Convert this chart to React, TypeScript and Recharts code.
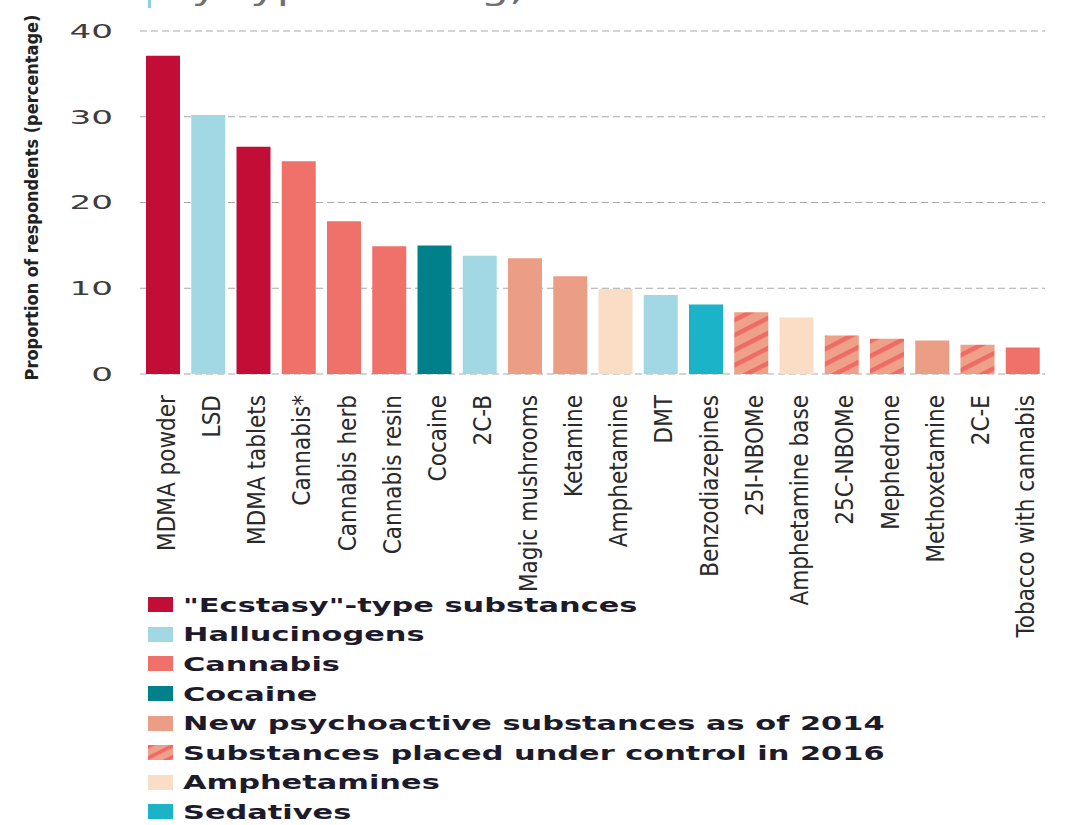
import { BarChart, Bar, Cell, XAxis, YAxis, CartesianGrid, Legend } from "recharts"

// categories and values
const drugs = [
  "MDMA powder", "LSD", "MDMA tablets", "Cannabis*", "Cannabis herb", "Cannabis resin",
  "Cocaine", "2C-B", "Magic mushrooms", "Ketamine", "Amphetamine", "DMT",
  "Benzodiazepines", "25I-NBOMe", "Amphetamine base", "25C-NBOMe", "Mephedrone",
  "Methoxetamine", "2C-E", "Tobacco with cannabis",
]
const percentages = [
  37.1, 30.2, 26.5, 24.8, 17.8, 14.9, 15.0, 13.8, 13.5, 11.4, 9.9, 9.2,
  8.1, 7.2, 6.6, 4.5, 4.1, 3.9, 3.4, 3.1,
]
const drugGroups = [
  "ecstasy", "halluc", "ecstasy", "cannabis", "cannabis", "cannabis",
  "cocaine", "halluc", "nps", "nps", "amph", "halluc",
  "sedatives", "controlled", "amph", "controlled", "controlled",
  "nps", "controlled", "cannabis",
]
const groupKeys = ["ecstasy", "halluc", "cannabis", "cocaine", "nps", "controlled", "amph", "sedatives"]
const groupLabels = [
  "\"Ecstasy\"-type substances", "Hallucinogens", "Cannabis", "Cocaine",
  "New psychoactive substances as of 2014", "Substances placed under control in 2016",
  "Amphetamines", "Sedatives",
]
const yTicks = [0, 10, 20, 30, 40]

const groupColors: Record<string, string> = {
  ecstasy: "#c20d36",
  halluc: "#a2d8e3",
  cannabis: "#f0716a",
  cocaine: "#00808b",
  nps: "#eb9d85",
  controlled: "url(#hatch)",
  amph: "#fbdcc4",
  sedatives: "#1ab3c7",
}

const data = drugs.map((name, i) => ({ name, value: percentages[i], group: drugGroups[i] }))

const condensed = "'DejaVu Sans Condensed', 'Liberation Sans Narrow', 'DejaVu Sans', sans-serif"

const XTick = ({ x, y, payload }: any) => (
  <g transform={`translate(${x + 12},${y + 21}) rotate(-90)`}>
    <text
      textAnchor="end"
      fill="#2a2a2a"
      style={{ fontFamily: condensed, fontSize: 24, fontStretch: "condensed" }}
    >
      {payload.value}
    </text>
  </g>
)

const YTick = ({ x, y, payload }: any) => (
  <g transform={`translate(${x},${y}) scale(1.8,1)`}>
    <text
      textAnchor="end"
      dy="0.36em"
      fill="#3d3d3d"
      style={{ fontFamily: "'DejaVu Sans', sans-serif", fontSize: 19 }}
    >
      {payload.value}
    </text>
  </g>
)

const YTitle = ({ viewBox }: any) => {
  const cx = viewBox.x + 38
  const cy = viewBox.y + viewBox.height / 2 - 5
  return (
    <text
      transform={`translate(${cx},${cy}) rotate(-90)`}
      textAnchor="middle"
      fill="#222"
      style={{ fontFamily: condensed, fontSize: 18, fontWeight: 700, fontStretch: "condensed" }}
    >
      Proportion of respondents (percentage)
    </text>
  )
}

const LegendContent = () => (
  <div>
    {groupKeys.map((key, i) => (
      <div key={key} style={{ display: "flex", alignItems: "center", height: 29.6 }}>
        <svg width={25} height={15} style={{ marginRight: 10 }}>
          <defs>
            <pattern id={`hatch-lg-${i}`} patternUnits="userSpaceOnUse" width={10} height={10} patternTransform="rotate(-27)">
              <rect width={10} height={10} fill="#eea088" />
              <rect width={10} height={3.5} fill="#ef6a66" />
            </pattern>
          </defs>
          <rect width={25} height={15} fill={key === "controlled" ? `url(#hatch-lg-${i})` : groupColors[key]} />
        </svg>
        <span
          style={{
            display: "inline-block",
            whiteSpace: "nowrap",
            transform: "scaleX(1.6)",
            transformOrigin: "left center",
            fontFamily: "'DejaVu Sans', sans-serif",
            fontWeight: 700,
            fontSize: 19,
            color: "#1d1b2b",
          }}
        >
          {groupLabels[i]}
        </span>
      </div>
    ))}
  </div>
)

export default function App() {
  return (
    <div
      style={{
        position: "fixed",
        left: 0,
        top: 0,
        width: 1068,
        height: 825,
        background: "#fff",
        overflow: "hidden",
      }}
    >
      {/* title, cut off by the top edge as in the source */}
      <div style={{ position: "absolute", left: 148, top: -2, width: 3, height: 10, background: "#8fd0da" }} />
      <div
        style={{
          position: "absolute",
          left: 163,
          top: -28,
          whiteSpace: "nowrap",
          transform: "scaleX(1.5)",
          transformOrigin: "left top",
          fontFamily: "'DejaVu Sans', sans-serif",
          fontSize: 30,
          lineHeight: "36px",
          color: "#6f6f6f",
        }}
      >
        by type of drug, 2014
      </div>

      <BarChart width={1068} height={825} data={data} margin={{ top: 31, right: 23, left: 0, bottom: 191 }}>
        <defs>
          <pattern id="hatch" patternUnits="userSpaceOnUse" width={10} height={13.4} patternTransform="rotate(-27)">
            <rect width={10} height={13.4} fill="#eea088" />
            <rect width={10} height={4.5} fill="#ef6c66" />
          </pattern>
        </defs>
        <CartesianGrid vertical={false} stroke="#a9a9a9" strokeDasharray="7 4" />
        <XAxis
          dataKey="name"
          interval={0}
          height={260}
          axisLine={false}
          tickLine={false}
          tickSize={0}
          tickMargin={0}
          tick={<XTick />}
        />
        <YAxis
          domain={[0, 40]}
          ticks={yTicks}
          width={140}
          axisLine={false}
          tickLine={false}
          tickSize={0}
          tickMargin={27}
          tick={<YTick />}
          label={<YTitle />}
        />
        <Legend
          layout="vertical"
          align="center"
          verticalAlign="middle"
          wrapperStyle={{ position: "absolute", left: 148, top: 590, width: 800, height: 240 }}
          content={<LegendContent />}
        />
        <Bar dataKey="value" barSize={34} isAnimationActive={false}>
          {data.map((d) => (
            <Cell key={d.name} fill={groupColors[d.group]} />
          ))}
        </Bar>
      </BarChart>
    </div>
  )
}
